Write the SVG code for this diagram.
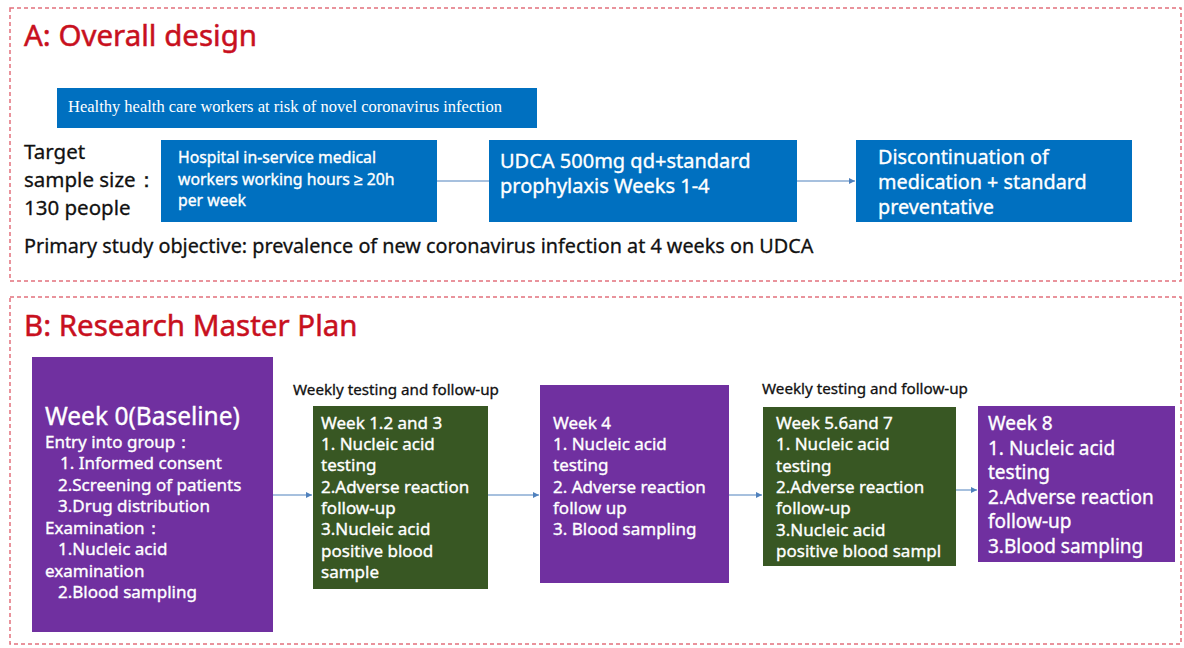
<svg xmlns="http://www.w3.org/2000/svg" width="1184" height="648" viewBox="0 0 1184 648">
  <defs>
    <marker id="arr" markerWidth="8" markerHeight="8" refX="6" refY="3" orient="auto" markerUnits="userSpaceOnUse">
      <path d="M0,0 L6,3 L0,6 Z" fill="#4f81bd"/>
    </marker>
    <style>
      .frame { fill: none; stroke: #e2707c; stroke-width: 1.5; stroke-dasharray: 4 3; }
      .title { font-family: "Noto Sans", "Liberation Sans", sans-serif; font-size: 29.5px; fill: #c8101e; stroke: #c8101e; stroke-width: 0.5; }
      .blue { fill: #0070c0; }
      .purple { fill: #7030a0; }
      .green { fill: #385723; }
      .wt { font-family: "Noto Sans", "Liberation Sans", sans-serif; fill: #ffffff; stroke: #ffffff; stroke-width: 0.35; }
      .bk { font-family: "Noto Sans", "Liberation Sans", sans-serif; fill: #111111; stroke: #111111; stroke-width: 0.3; }
      .conn { stroke: #4f81bd; stroke-width: 1; fill: none; }
    </style>
  </defs>
  <rect width="1184" height="648" fill="#ffffff"/>

  <!-- Section frames -->
  <rect class="frame" x="10" y="8" width="1171" height="273"/>
  <rect class="frame" x="10" y="297" width="1171" height="347"/>

  <!-- Section A -->
  <text class="title" x="24" y="46">A: Overall design</text>

  <g id="population">
    <rect class="blue" x="57" y="88" width="480" height="40"/>
    <text x="68" y="112" font-family="Liberation Serif, serif" font-size="16.5" fill="#ffffff">Healthy health care workers at risk of novel coronavirus infection</text>
  </g>

  <g id="sample-size" class="bk" font-size="20.5">
    <text x="24" y="159">Target</text>
    <text x="24" y="187">sample size：</text>
    <text x="24" y="215">130 people</text>
  </g>

  <g id="workers">
    <rect class="blue" x="161" y="140" width="276" height="82"/>
    <text class="wt" font-size="15.8">
      <tspan x="178" y="163">Hospital in-service medical</tspan>
      <tspan x="178" y="185">workers working hours ≥ 20h</tspan>
      <tspan x="178" y="206">per week</tspan>
    </text>
  </g>

  <g id="udca">
    <rect class="blue" x="489" y="140" width="308" height="82"/>
    <text class="wt" font-size="20">
      <tspan x="500" y="168">UDCA 500mg qd+standard</tspan>
      <tspan x="500" y="193">prophylaxis  Weeks 1-4</tspan>
    </text>
  </g>

  <g id="discontinuation">
    <rect class="blue" x="856" y="140" width="276" height="82"/>
    <text class="wt" font-size="19.8">
      <tspan x="878" y="164">Discontinuation of</tspan>
      <tspan x="878" y="189">medication + standard</tspan>
      <tspan x="878" y="214">preventative</tspan>
    </text>
  </g>

  <text id="objective" class="bk" x="24" y="253" font-size="19.8">Primary study objective: prevalence of new coronavirus infection at 4 weeks on UDCA</text>

  <!-- Section B -->
  <text class="title" x="24" y="336">B: Research Master Plan</text>

  <g id="week0">
    <rect class="purple" x="32" y="357" width="241" height="275"/>
    <text class="wt" x="45" y="425" font-size="24.5">Week 0(Baseline)</text>
    <text class="wt" font-size="17">
      <tspan x="45" y="448">Entry into group：</tspan>
      <tspan x="60" y="469">1. Informed consent</tspan>
      <tspan x="58" y="491">2.Screening of patients</tspan>
      <tspan x="58" y="512">3.Drug distribution</tspan>
      <tspan x="45" y="534">Examination：</tspan>
      <tspan x="58" y="555">1.Nucleic acid</tspan>
      <tspan x="45" y="577">examination</tspan>
      <tspan x="58" y="598">2.Blood sampling</tspan>
    </text>
  </g>

  <text class="bk" x="293" y="395" font-size="15.2">Weekly testing and follow-up</text>

  <g id="week1-3">
    <rect class="green" x="313" y="406" width="175" height="183"/>
    <text class="wt" font-size="17">
      <tspan x="321" y="429">Week 1.2 and 3</tspan>
      <tspan x="321" y="450">1. Nucleic acid</tspan>
      <tspan x="321" y="471">testing</tspan>
      <tspan x="321" y="493">2.Adverse reaction</tspan>
      <tspan x="321" y="514">follow-up</tspan>
      <tspan x="321" y="535">3.Nucleic acid</tspan>
      <tspan x="321" y="557">positive blood</tspan>
      <tspan x="321" y="578">sample</tspan>
    </text>
  </g>

  <g id="week4">
    <rect class="purple" x="540" y="385" width="189" height="198"/>
    <text class="wt" font-size="17">
      <tspan x="553" y="429">Week 4</tspan>
      <tspan x="553" y="450">1. Nucleic acid</tspan>
      <tspan x="553" y="471">testing</tspan>
      <tspan x="553" y="493">2. Adverse reaction</tspan>
      <tspan x="553" y="514">follow up</tspan>
      <tspan x="553" y="535">3. Blood sampling</tspan>
    </text>
  </g>

  <text class="bk" x="762" y="394" font-size="15.2">Weekly testing and follow-up</text>

  <g id="week5-7">
    <rect class="green" x="763" y="407" width="193" height="159"/>
    <text class="wt" font-size="17">
      <tspan x="776" y="429">Week 5.6and 7</tspan>
      <tspan x="776" y="450">1. Nucleic acid</tspan>
      <tspan x="776" y="472">testing</tspan>
      <tspan x="776" y="493">2.Adverse reaction</tspan>
      <tspan x="776" y="514">follow-up</tspan>
      <tspan x="776" y="536">3.Nucleic acid</tspan>
      <tspan x="776" y="557">positive blood sampl</tspan>
    </text>
  </g>

  <g id="week8">
    <rect class="purple" x="978" y="406" width="197" height="156"/>
    <text class="wt" font-size="19">
      <tspan x="988" y="430">Week 8</tspan>
      <tspan x="988" y="455">1. Nucleic acid</tspan>
      <tspan x="988" y="479">testing</tspan>
      <tspan x="988" y="504">2.Adverse reaction</tspan>
      <tspan x="988" y="528">follow-up</tspan>
      <tspan x="988" y="553">3.Blood sampling</tspan>
    </text>
  </g>

  <!-- Connectors -->
  <g id="connectors">
    <line class="conn" x1="437" y1="181" x2="489" y2="181"/>
    <line class="conn" x1="797" y1="181" x2="855" y2="181" marker-end="url(#arr)"/>
    <line class="conn" x1="273" y1="495" x2="312" y2="495" marker-end="url(#arr)"/>
    <line class="conn" x1="488" y1="495" x2="539" y2="495" marker-end="url(#arr)"/>
    <line class="conn" x1="729" y1="495" x2="762" y2="495" marker-end="url(#arr)"/>
    <line class="conn" x1="956" y1="490" x2="977" y2="490" marker-end="url(#arr)"/>
  </g>
</svg>
